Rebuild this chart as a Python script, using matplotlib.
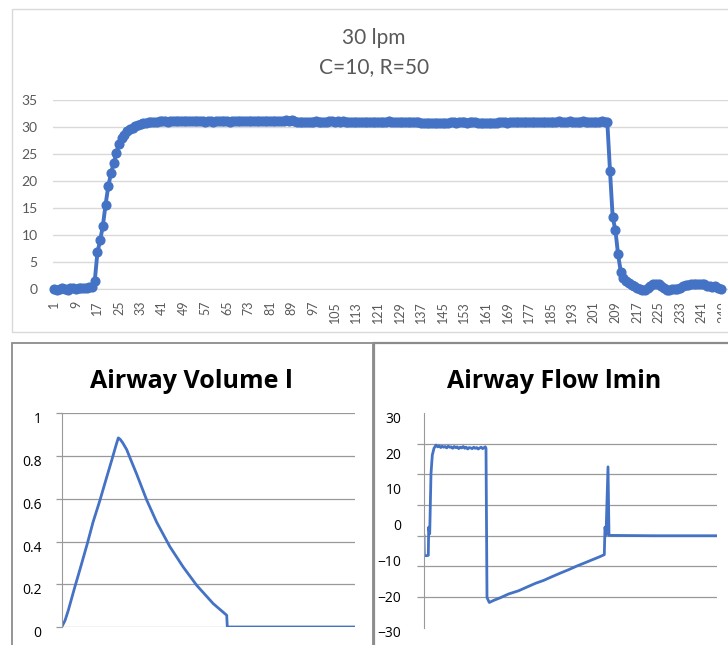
import matplotlib
matplotlib.use("Agg")
import matplotlib.pyplot as plt
import matplotlib.transforms as mtransforms
from matplotlib.patches import Rectangle

W, H = 728, 645
BLUE = '#4472C4'

# top chart: 30 lpm, C=10, R=50 (one value per sample)
PRESSURE = [
    0.0, -0.1, 0.0, 0.1, 0.0, -0.1, 0.1, 0.1, 0.0, 0.2, 0.1, 0.2, 0.2, 0.3, 0.3, 1.5, 6.8, 9.0, 11.7, 15.6,
    19.0, 21.4, 23.3, 25.2, 26.9, 27.9, 28.6, 29.2, 29.6, 29.9, 30.2, 30.4, 30.6, 30.7, 30.8, 30.9, 30.9, 31.0, 31.0, 31.1,
    31.1, 31.1, 31.0, 31.2, 31.1, 31.1, 31.2, 31.1, 31.2, 31.2, 31.1, 31.2, 31.1, 31.1, 31.2, 31.1, 31.0, 31.1, 31.1, 31.0,
    31.1, 31.1, 31.2, 31.1, 31.1, 31.0, 31.1, 31.1, 31.2, 31.1, 31.1, 31.1, 31.2, 31.2, 31.1, 31.1, 31.1, 31.2, 31.1, 31.1,
    31.1, 31.2, 31.1, 31.1, 31.2, 31.2, 31.3, 31.2, 31.3, 31.2, 31.0, 30.9, 30.9, 31.0, 30.9, 30.9, 31.0, 31.1, 31.0, 30.9,
    30.9, 31.0, 31.1, 31.1, 31.0, 31.1, 31.0, 31.1, 31.0, 31.0, 31.0, 30.9, 31.0, 31.0, 31.0, 30.9, 31.0, 31.0, 31.0, 31.0,
    30.9, 31.0, 31.0, 31.0, 31.1, 31.0, 30.9, 31.0, 31.0, 31.0, 30.9, 31.0, 31.0, 31.0, 31.0, 31.0, 30.8, 30.7, 30.7, 30.8,
    30.7, 30.8, 30.8, 30.7, 30.8, 30.8, 30.8, 30.9, 30.9, 30.8, 30.9, 30.9, 30.9, 30.8, 30.9, 30.9, 30.9, 30.8, 30.8, 30.8,
    30.7, 30.8, 30.8, 30.8, 30.8, 30.9, 30.9, 30.9, 30.8, 30.9, 30.9, 30.9, 31.0, 30.9, 30.9, 30.9, 31.0, 30.9, 31.0, 31.0,
    31.0, 30.9, 31.0, 31.0, 31.0, 31.0, 31.0, 31.1, 31.0, 31.0, 31.0, 31.1, 31.0, 31.0, 31.0, 31.0, 31.1, 31.0, 31.0, 31.0,
    31.0, 31.0, 31.0, 31.1, 31.0, 31.0, 21.9, 13.3, 10.9, 6.4, 3.2, 2.0, 1.5, 1.2, 0.8, 0.5, 0.2, 0.0, -0.2, -0.2,
    0.2, 0.6, 0.9, 1.0, 0.9, 0.5, 0.1, -0.1, -0.1, 0.0, 0.0, 0.0, 0.2, 0.5, 0.7, 0.8, 0.9, 0.9, 1.0, 1.0,
    1.0, 0.9, 0.6, 0.5, 0.4, 0.5, 0.2, 0.0,
]
SAMPLES = list(range(1, len(PRESSURE) + 1))
TOP_TICKS = list(range(1, 250, 8))
TOP_YTICKS = [0, 5, 10, 15, 20, 25, 30, 35]

# airway volume (l)
VOL_T = [0, 3.3, 6.6, 10.3, 13.3, 18.3, 25.6, 31.3, 38.3, 44.3, 50, 54.3, 56.6, 58.5, 61, 65, 69.3,
         75, 85, 95, 108.3, 121.6, 135, 151.6, 165, 165.6, 293.3]
VOL_V = [0, 0.03, 0.078, 0.14, 0.19, 0.27, 0.39, 0.49, 0.594, 0.69, 0.78, 0.85, 0.885, 0.878, 0.862, 0.83, 0.78,
         0.715, 0.594, 0.49, 0.375, 0.28, 0.195, 0.109, 0.055, 0.0, 0.0]
VOL_YTICKS = [0, 0.2, 0.4, 0.6, 0.8, 1]
VOL_YLABELS = ['0', '0.2', '0.4', '0.6', '0.8', '1']

# airway flow (l/min)
FLOW_T = [0.3, 0.6, 2.5, 4.6, 5.0, 6.0, 7.3, 8.6, 10.3, 12.3,
          14, 15.5, 17, 18.5, 20, 21.5, 23, 24.5, 26, 27.5, 29, 30.5, 32, 33.5, 35, 36.5, 38, 39.5,
          41, 42.5, 44, 45.5, 47, 48.5, 50, 51.5, 53, 54.5, 56, 57.5, 59, 60.5, 61.6, 62.3, 63.3, 65.6,
          70, 76.3, 85, 95, 103, 112, 120, 128, 136.3, 145, 153, 161, 169.7, 175, 180.6,
          181.3, 182.3, 184.3, 185.3, 230, 293]
FLOW_V = [-4.3, -9.8, -9.9, -9.8, -1.9, -3.75, 13.1, 18.3, 20.2, 21.1,
          20.6, 20.9, 20.4, 20.8, 20.5, 20.7, 20.3, 20.8, 20.5, 20.6, 20.2, 20.7, 20.4, 20.6, 20.1, 20.5, 20.3, 20.7,
          20.2, 20.5, 20.0, 20.4, 20.3, 20.1, 20.5, 20.2, 20.4, 20.0, 20.3, 20.5, 20.1, 20.4, 20.6, 20.2, -21.6, -23.0,
          -22.4, -21.7, -20.6, -19.7, -18.7, -17.6, -16.8, -15.8, -14.8, -13.8, -12.8, -11.9, -10.9, -10.3, -9.6,
          -1.9, -4.2, 15.0, -4.2, -4.3, -4.3]
FLOW_YTICKS = [-30, -20, -10, 0, 10, 20, 30]
FLOW_GRID = [-30, -21.43, -12.86, -4.29, 4.29, 12.86, 21.43, 30]


def frac(l, t, r, b):
    return [l / W, 1 - b / H, (r - l) / W, (b - t) / H]


def shift_labels(ax, fig, dy):
    off = mtransforms.ScaledTranslation(0, -dy / 100, fig.dpi_scale_trans)
    for lab in ax.get_yticklabels():
        lab.set_transform(lab.get_transform() + off)


fig = plt.figure(figsize=(W / 100, H / 100), dpi=100)

# panel borders
fig.add_artist(Rectangle((11.7 / W, 1 - 332 / H), 740 / W, 323 / H, transform=fig.transFigure,
                         fill=False, ec='#d9d9d9', lw=1))
fig.add_artist(Rectangle((12 / W, -0.05), 360.5 / W, 1 - 343 / H + 0.05, transform=fig.transFigure,
                         fill=False, ec='#8c8c8c', lw=1.3))
fig.add_artist(Rectangle((374 / W, -0.05), 400 / W, 1 - 343 / H + 0.05, transform=fig.transFigure,
                         fill=False, ec='#8c8c8c', lw=1.6))

# ---- top chart
ax = fig.add_axes(frac(52.95, 100, 52.95 + 252 * 2.6975, 289))
ax.plot(SAMPLES, PRESSURE, color=BLUE, lw=2.8, marker='o', ms=6.3, clip_on=False, zorder=3)
ax.set_xlim(0.5, 252.5)
ax.set_ylim(0, 35)
ax.set_yticks(TOP_YTICKS)
ax.set_xticks(TOP_TICKS)
ax.set_xticklabels([str(t) for t in TOP_TICKS], rotation=90)
ax.grid(axis='y', color='#d9d9d9', lw=1)
ax.set_axisbelow(True)
for s in ['top', 'right', 'left']:
    ax.spines[s].set_visible(False)
ax.spines['bottom'].set_color('#d9d9d9')
ax.tick_params(axis='y', length=0, pad=11, labelsize=10, labelcolor='#595959')
ax.tick_params(axis='x', length=0, pad=8.5, labelsize=9, labelcolor='#595959')
for lab in ax.get_xticklabels() + ax.get_yticklabels():
    lab.set_family('Lato')
# last category label is cut by the chart edge
clip = mtransforms.TransformedBbox(mtransforms.Bbox([[0, 0], [721 / W, 1]]), fig.transFigure)
last = ax.get_xticklabels()[-1]
last.set_clip_on(True)
last.set_clip_box(clip)

fig.text(374 / W, 1 - 44.3 / H, '30 lpm', ha='center', va='baseline', fontsize=15,
         color='#595959', family='Lato')
fig.text(374.5 / W, 1 - 73.3 / H, 'C=10, R=50', ha='center', va='baseline', fontsize=15,
         color='#595959', family='Lato')

# ---- airway volume
ax1 = fig.add_axes(frac(61.7, 413.3, 355, 627))
ax1.plot(VOL_T, VOL_V, color=BLUE, lw=2, solid_joinstyle='round')
ax1.set_xlim(0, 293.3)
ax1.set_ylim(0, 1)
ax1.set_xticks([])
ax1.set_yticks(VOL_YTICKS)
ax1.set_yticklabels(VOL_YLABELS)
ax1.grid(axis='y', color='#999999', lw=0.9)
ax1.set_axisbelow(True)
for s in ['top', 'right', 'bottom']:
    ax1.spines[s].set_visible(False)
ax1.spines['left'].set_color('#999999')
ax1.tick_params(axis='y', length=4.5, width=0.9, color='#999999', pad=10, labelsize=10)
for lab in ax1.get_yticklabels():
    lab.set_family('Open Sans')
shift_labels(ax1, fig, 4.5)
fig.text(191 / W, 1 - 388.3 / H, 'Airway Volume l', ha='center', va='baseline', fontsize=18,
         fontweight='bold', family='Open Sans')

# ---- airway flow
ax2 = fig.add_axes(frac(423.7, 413.3, 716.7, 627.5))
ax2.plot(FLOW_T, FLOW_V, color=BLUE, lw=2)
ax2.set_xlim(0, 293)
ax2.set_ylim(-30, 30)
ax2.set_xticks([])
ax2.set_yticks(FLOW_YTICKS)
ax2.set_yticks(FLOW_GRID, minor=True)
ax2.grid(axis='y', which='minor', color='#999999', lw=0.9)
ax2.set_axisbelow(True)
for s in ['top', 'right', 'bottom']:
    ax2.spines[s].set_visible(False)
ax2.spines['left'].set_color('#999999')
ax2.tick_params(axis='y', which='major', length=0, pad=16, labelsize=10)
ax2.tick_params(axis='y', which='minor', length=5, width=0.9, color='#999999')
for lab in ax2.get_yticklabels():
    lab.set_family('Open Sans')
shift_labels(ax2, fig, 4.3)
fig.text(554.5 / W, 1 - 388.3 / H, 'Airway Flow lmin', ha='center', va='baseline', fontsize=18,
         fontweight='bold', family='Open Sans')

fig.savefig('out.png', dpi=100)
